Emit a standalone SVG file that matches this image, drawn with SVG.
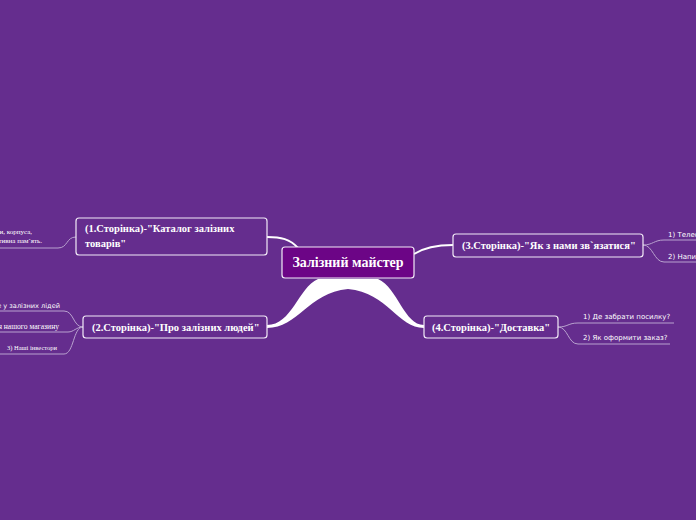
<svg xmlns="http://www.w3.org/2000/svg" width="696" height="520" viewBox="0 0 696 520">
<style>
.bg{fill:#652d8e}
.topic rect{fill:#652d8e;stroke:#f2eaf7;stroke-width:1.2}
.center rect{fill:#6c0586;stroke:#f2eaf7;stroke-width:1.2}
.t{font-family:"Liberation Serif",serif;font-weight:bold;fill:#ffffff}
.s{font-family:"DejaVu Sans",sans-serif;font-size:7px;fill:#ffffff}
.ss{font-family:"Liberation Serif",serif;font-size:7px;fill:#ffffff}
.sub{fill:none;stroke:#b9a2cf;stroke-width:1}
.main{fill:none;stroke:#ffffff;stroke-width:2}
</style>
<rect class="bg" x="0" y="0" width="696" height="520"/>
<g id="connectors">
<path d="M318 279 C298 288 292 325 267 325 L267 328 C298 328 308 293 348 289 C388 293 398 328 424 328 L424 325 C404 325 398 288 378 279 Z" fill="#ffffff"/>
<path class="main" d="M298 248 C290 239 281 237 267 237"/>
<path class="main" d="M414 254 C425 247 438 245 453 245"/>
<path class="sub" d="M76 237 C66 237 68 248 58 248 L0 248"/>
<path class="sub" d="M83 327 C73 327 74 311 64 311 L0 311"/>
<path class="sub" d="M83 327 C76 327 74 332 68 332 L0 332"/>
<path class="sub" d="M83 327 C73 327 74 354 64 354 L0 354"/>
<path class="sub" d="M643 245 C653 245 654 240 664 240 L696 240"/>
<path class="sub" d="M643 245 C653 245 654 262 664 262 L696 262"/>
<path class="sub" d="M558 327 C568 327 568 323 578 323 L674 323"/>
<path class="sub" d="M558 327 C568 327 568 344 578 344 L670 344"/>
</g>
<g id="center" class="center">
<rect x="282" y="247" width="132" height="31" rx="3"/>
<text class="t" x="348" y="267" font-size="14" text-anchor="middle">Залізний майстер</text>
</g>
<g id="node1" class="topic">
<rect x="76" y="218" width="191" height="37" rx="3"/>
<text class="t" x="85" y="232" font-size="10.5">(1.Сторінка)-"Каталог залізних</text>
<text class="t" x="85" y="247" font-size="10.5">товарів"</text>
</g>
<g id="node2" class="topic">
<rect x="83" y="316" width="184" height="22" rx="3"/>
<text class="t" x="92" y="331" font-size="10.5">(2.Сторінка)-"Про залізних людей"</text>
</g>
<g id="node3" class="topic">
<rect x="453" y="234" width="190" height="23" rx="3"/>
<text class="t" x="462" y="249" font-size="10.5">(3.Сторінка)-"Як з нами зв`язатися"</text>
</g>
<g id="node4" class="topic">
<rect x="424" y="316" width="134" height="22" rx="3"/>
<text class="t" x="432" y="331" font-size="10.5">(4.Сторінка)-"Доставка"</text>
</g>
<g id="sub1">
<text class="ss" x="32" y="234" text-anchor="end">и, корпуса,</text>
<text class="ss" x="42" y="243" text-anchor="end">ктивна пам`ять.</text>
</g>
<g id="sub2">
<text class="s" x="60" y="308" text-anchor="end" style="font-size:6.6px">е у залізних лідей</text>
<text class="ss" x="59" y="329" text-anchor="end" style="font-size:7.6px">я нашого магазину</text>
<text class="ss" x="7" y="350" style="font-size:6.5px">3)  Наші інвестори</text>
</g>
<g id="sub3">
<text class="s" x="668" y="237">1) Телефон</text>
<text class="s" x="668" y="259">2) Напишіть</text>
</g>
<g id="sub4">
<text class="s" x="583" y="319">1) Де забрати посилку?</text>
<text class="s" x="583" y="340">2) Як оформити заказ?</text>
</g>
</svg>
